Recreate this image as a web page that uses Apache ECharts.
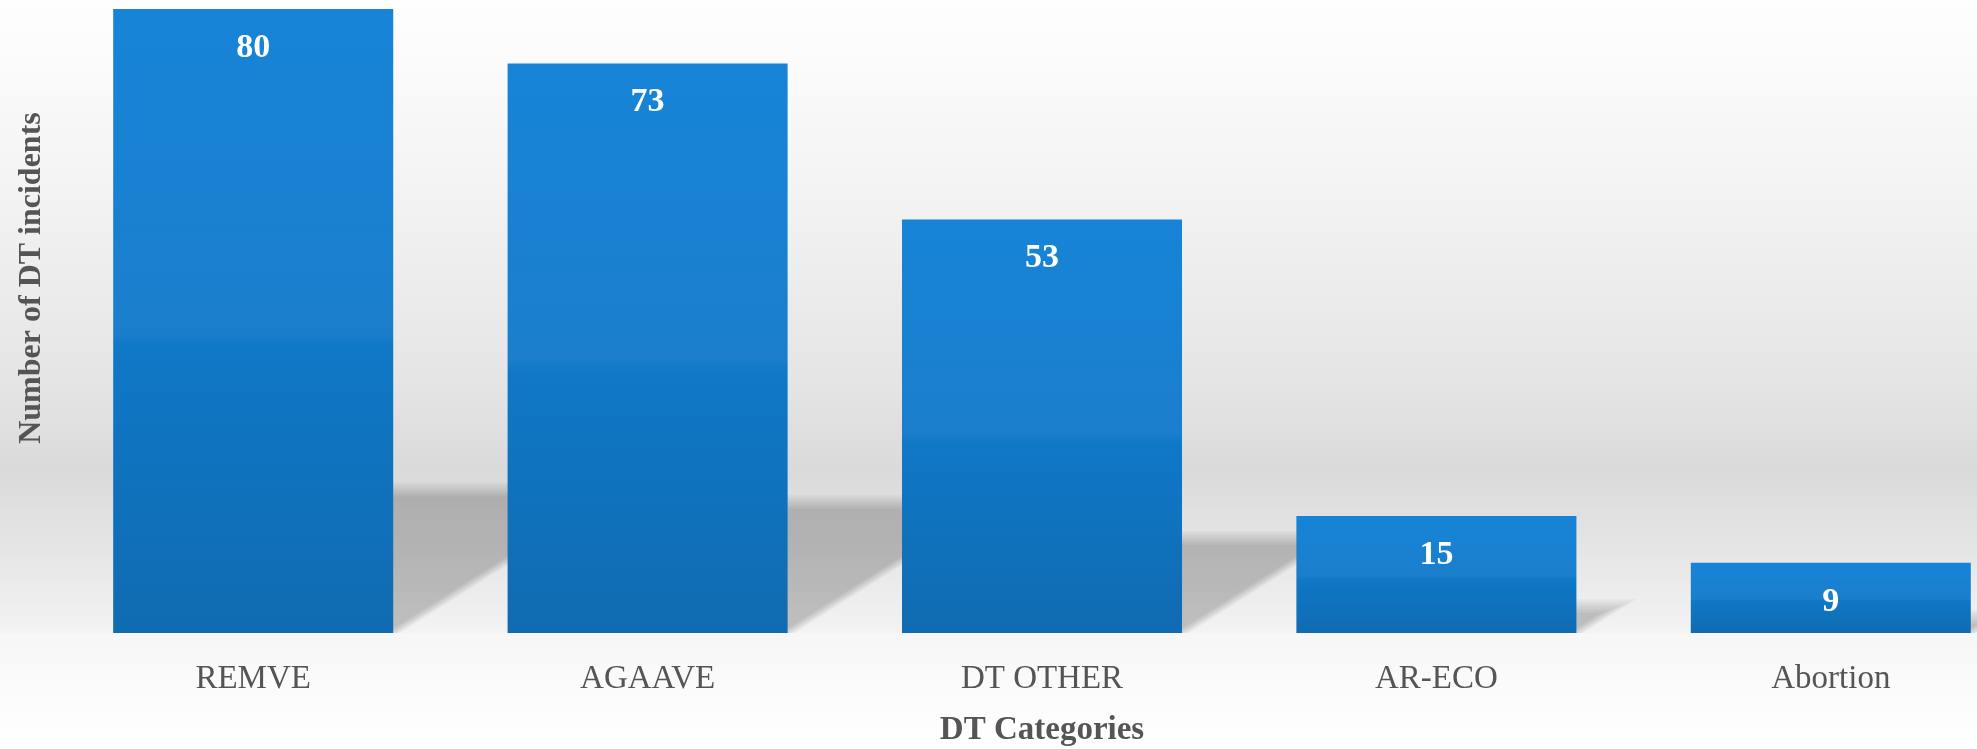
<!DOCTYPE html>
<html>
<head>
<meta charset="utf-8">
<script src="https://cdn.jsdelivr.net/npm/echarts@6/dist/echarts.min.js"></script>
<style>
  html, body { margin: 0; padding: 0; }
  #chart { width: 1977px; height: 749px; }
</style>
</head>
<body>
<div id="chart"></div>
<script>
var categories = ['REMVE', 'AGAAVE', 'DT OTHER', 'AR-ECO', 'Abortion'];
var incidents = [80, 73, 53, 15, 9];
var xAxisTitle = 'DT Categories';
var yAxisTitle = 'Number of DT incidents';

var SERIF = '"Liberation Serif", "DejaVu Serif", serif';
var BAR_RATIO = 0.71;

var chart = echarts.init(document.getElementById('chart'));

var shadowData = incidents.map(function (v, i) { return [i, v]; });

var option = {
  animation: false,
  backgroundColor: {
    type: 'linear', x: 0, y: 0, x2: 0, y2: 1,
    colorStops: [
      { offset: 0, color: '#fefefe' },
      { offset: 0.15, color: '#f8f8f8' },
      { offset: 0.35, color: '#eeeeee' },
      { offset: 0.52, color: '#e4e4e4' },
      { offset: 0.63, color: '#dadada' },
      { offset: 0.74, color: '#e6e6e6' },
      { offset: 0.844, color: '#f3f3f3' },
      { offset: 0.846, color: '#f7f7f7' },
      { offset: 1, color: '#ffffff' }
    ]
  },
  grid: { left: 56, top: 9, width: 1972, height: 624, outerBoundsMode: 'none' },
  xAxis: {
    type: 'category',
    data: categories,
    axisLine: { show: false },
    axisTick: { show: false },
    axisLabel: {
      margin: 30,
      fontFamily: SERIF,
      fontSize: 33,
      color: '#555555'
    },
    name: xAxisTitle,
    nameLocation: 'middle',
    nameGap: 81,
    nameTextStyle: {
      fontFamily: SERIF,
      fontWeight: 'bold',
      fontSize: 33,
      color: '#555555'
    }
  },
  yAxis: {
    type: 'value',
    min: 0,
    max: 80,
    show: false
  },
  graphic: [{
    type: 'text',
    x: 32,
    y: 278,
    rotation: Math.PI / 2,
    style: {
      text: yAxisTitle,
      font: 'bold 32px ' + SERIF,
      fill: '#555555',
      textAlign: 'center',
      textVerticalAlign: 'middle'
    }
  }],
  series: [
    {
      type: 'custom',
      z: 1,
      silent: true,
      clip: false,
      data: shadowData,
      renderItem: function (params, api) {
        var idx = api.value(0);
        var val = api.value(1);
        var top = api.coord([idx, val]);
        var base = api.coord([idx, 0]);
        var w = api.size([1, 0])[0] * BAR_RATIO;
        var xl = top[0] - w / 2, xr = top[0] + w / 2;
        var yb = base[1];
        var kh = (base[1] - top[1]) * 0.23;
        var a = kh * 1.58;
        var children = [];
        for (var d = -7; d <= 7; d += 2) {
          var kh2 = Math.max(0, kh + d);
          var a2 = a + d * 1.58;
          children.push({
            type: 'polygon',
            shape: { points: [[xl, yb], [xr + d, yb], [xr + d + a2, yb - kh2], [xl + a2, yb - kh2]] },
            style: { fill: 'rgba(0,0,0,0.026)' }
          });
        }
        return { type: 'group', children: children };
      }
    },
    {
      type: 'bar',
      z: 2,
      data: incidents,
      barCategoryGap: '29%',
      itemStyle: {
        color: {
          type: 'linear', x: 0, y: 0, x2: 0, y2: 1,
          colorStops: [
            { offset: 0, color: '#1784d7' },
            { offset: 0.52, color: '#1a7ecc' },
            { offset: 0.54, color: '#0f78c7' },
            { offset: 1, color: '#106bb1' }
          ]
        }
      },
      label: {
        show: true,
        position: 'insideTop',
        distance: 22,
        fontFamily: SERIF,
        fontWeight: 'bold',
        fontSize: 34,
        color: '#ffffff'
      }
    }
  ]
};

chart.setOption(option);
</script>
</body>
</html>
